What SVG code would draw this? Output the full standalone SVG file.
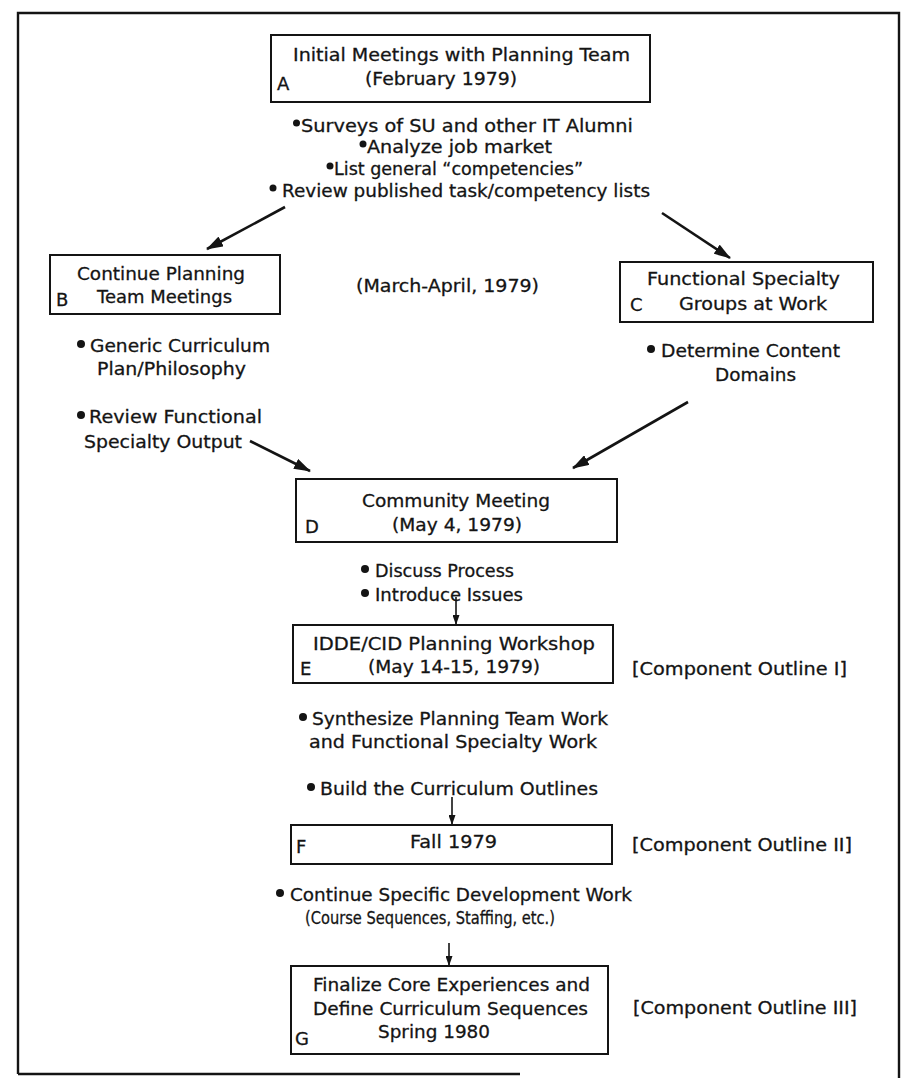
<svg xmlns="http://www.w3.org/2000/svg" width="904" height="1080" viewBox="0 0 904 1080">
<style>
.t{font-family:"DejaVu Sans","Liberation Sans",sans-serif;font-size:18px;fill:#141414;stroke:#141414;stroke-width:0.3}
.box{fill:#fff;stroke:#141414;stroke-width:2}
.conn{stroke:#141414;stroke-width:2.6;fill:none}
.thin{stroke:#141414;stroke-width:1.6;fill:none}
.dot{fill:#141414}
.frame{stroke:#141414;stroke-width:2.4;fill:none}
</style>
<defs>
<marker id="ah" markerUnits="userSpaceOnUse" markerWidth="17" markerHeight="11" refX="16" refY="5.5" orient="auto"><path d="M0,0 L17,5.5 L0,11 Z" fill="#141414"/></marker>
<marker id="ahs" markerUnits="userSpaceOnUse" markerWidth="10" markerHeight="7" refX="10" refY="3.5" orient="auto"><path d="M0,0 L10,3.5 L0,7 Z" fill="#141414"/></marker>
</defs>
<rect width="904" height="1080" fill="#fff"/>
<path class="frame" d="M18,1074 L18,13 L899,13 L899,1078 M18,1074 L520,1074"/>

<g id="connectors">
<path class="conn" d="M285,207 L207,249" marker-end="url(#ah)"/>
<path class="conn" d="M662,213 L730,258" marker-end="url(#ah)"/>
<path class="conn" d="M250,441 L310,471" marker-end="url(#ah)"/>
<path class="conn" d="M688,402 L573,468" marker-end="url(#ah)"/>
<path class="thin" d="M456,597 L456,625" marker-end="url(#ahs)"/>
<path class="thin" d="M452,797 L452,825" marker-end="url(#ahs)"/>
<path class="thin" d="M449,943 L449,966" marker-end="url(#ahs)"/>
</g>

<g id="nodeA">
<rect class="box" x="271" y="35" width="379" height="67"/>
<text class="t" x="293" y="61" textLength="337" lengthAdjust="spacingAndGlyphs">Initial Meetings with Planning Team</text>
<text class="t" x="365" y="85" textLength="152" lengthAdjust="spacingAndGlyphs">(February 1979)</text>
<text class="t" x="277" y="90">A</text>
</g>

<g id="notesA">
<circle class="dot" cx="296.5" cy="123" r="3.5"/>
<text class="t" x="301" y="132" textLength="332" lengthAdjust="spacingAndGlyphs">Surveys of SU and other IT Alumni</text>
<circle class="dot" cx="363" cy="144" r="3.5"/>
<text class="t" x="367" y="153" textLength="185" lengthAdjust="spacingAndGlyphs">Analyze job market</text>
<circle class="dot" cx="330" cy="166" r="3.5"/>
<text class="t" x="334" y="175" textLength="249" lengthAdjust="spacingAndGlyphs">List general “competencies”</text>
<circle class="dot" cx="273" cy="188" r="3.5"/>
<text class="t" x="282" y="197" textLength="368" lengthAdjust="spacingAndGlyphs">Review published task/competency lists</text>
</g>

<g id="nodeB">
<rect class="box" x="50" y="255" width="230" height="59"/>
<text class="t" x="77" y="280" textLength="168" lengthAdjust="spacingAndGlyphs">Continue Planning</text>
<text class="t" x="97" y="303" textLength="135" lengthAdjust="spacingAndGlyphs">Team Meetings</text>
<text class="t" x="56" y="306">B</text>
</g>

<text class="t" x="356" y="292" textLength="183" lengthAdjust="spacingAndGlyphs">(March-April, 1979)</text>

<g id="notesB">
<circle class="dot" cx="81" cy="344" r="4"/>
<text class="t" x="90" y="352" textLength="180" lengthAdjust="spacingAndGlyphs">Generic Curriculum</text>
<text class="t" x="97" y="375" textLength="149" lengthAdjust="spacingAndGlyphs">Plan/Philosophy</text>
<circle class="dot" cx="81" cy="415" r="4"/>
<text class="t" x="89" y="423" textLength="173" lengthAdjust="spacingAndGlyphs">Review Functional</text>
<text class="t" x="84" y="448" textLength="158" lengthAdjust="spacingAndGlyphs">Specialty Output</text>
</g>

<g id="nodeC">
<rect class="box" x="620" y="262" width="253" height="60"/>
<text class="t" x="647" y="285" textLength="193" lengthAdjust="spacingAndGlyphs">Functional Specialty</text>
<text class="t" x="679" y="310" textLength="148" lengthAdjust="spacingAndGlyphs">Groups at Work</text>
<text class="t" x="630" y="311">C</text>
</g>

<g id="notesC">
<circle class="dot" cx="651" cy="349" r="4"/>
<text class="t" x="661" y="357" textLength="179" lengthAdjust="spacingAndGlyphs">Determine Content</text>
<text class="t" x="715" y="381" textLength="81" lengthAdjust="spacingAndGlyphs">Domains</text>
</g>

<g id="nodeD">
<rect class="box" x="296" y="479" width="321" height="63"/>
<text class="t" x="362" y="507" textLength="188" lengthAdjust="spacingAndGlyphs">Community Meeting</text>
<text class="t" x="392" y="531" textLength="130" lengthAdjust="spacingAndGlyphs">(May 4, 1979)</text>
<text class="t" x="305" y="533">D</text>
</g>

<g id="notesD">
<circle class="dot" cx="365" cy="569" r="4"/>
<text class="t" x="375" y="577" textLength="139" lengthAdjust="spacingAndGlyphs">Discuss Process</text>
<circle class="dot" cx="365" cy="593" r="4"/>
<text class="t" x="375" y="601" textLength="148" lengthAdjust="spacingAndGlyphs">Introduce Issues</text>
</g>

<g id="nodeE">
<rect class="box" x="293" y="625" width="320" height="58"/>
<text class="t" x="313" y="650" textLength="282" lengthAdjust="spacingAndGlyphs">IDDE/CID Planning Workshop</text>
<text class="t" x="368" y="673" textLength="172" lengthAdjust="spacingAndGlyphs">(May 14-15, 1979)</text>
<text class="t" x="300" y="675">E</text>
</g>
<text class="t" x="632" y="675" textLength="215" lengthAdjust="spacingAndGlyphs">[Component Outline I]</text>

<g id="notesE">
<circle class="dot" cx="303" cy="717" r="4"/>
<text class="t" x="312" y="725" textLength="296" lengthAdjust="spacingAndGlyphs">Synthesize Planning Team Work</text>
<text class="t" x="309" y="748" textLength="288" lengthAdjust="spacingAndGlyphs">and Functional Specialty Work</text>
<circle class="dot" cx="311" cy="787" r="4"/>
<text class="t" x="320" y="795" textLength="278" lengthAdjust="spacingAndGlyphs">Build the Curriculum Outlines</text>
</g>

<g id="nodeF">
<rect class="box" x="291" y="825" width="321" height="39"/>
<text class="t" x="410" y="848" textLength="87" lengthAdjust="spacingAndGlyphs">Fall 1979</text>
<text class="t" x="296" y="853">F</text>
</g>
<text class="t" x="632" y="851" textLength="220" lengthAdjust="spacingAndGlyphs">[Component Outline II]</text>

<g id="notesF">
<circle class="dot" cx="280" cy="893" r="4"/>
<text class="t" x="290" y="901" textLength="342" lengthAdjust="spacingAndGlyphs">Continue Specific Development Work</text>
<text class="t" x="305" y="924" textLength="250" lengthAdjust="spacingAndGlyphs">(Course Sequences, Staffing, etc.)</text>
</g>

<g id="nodeG">
<rect class="box" x="291" y="966" width="317" height="88"/>
<text class="t" x="313" y="991" textLength="277" lengthAdjust="spacingAndGlyphs">Finalize Core Experiences and</text>
<text class="t" x="313" y="1015" textLength="275" lengthAdjust="spacingAndGlyphs">Define Curriculum Sequences</text>
<text class="t" x="378" y="1038" textLength="112" lengthAdjust="spacingAndGlyphs">Spring 1980</text>
<text class="t" x="295" y="1045">G</text>
</g>
<text class="t" x="633" y="1014" textLength="224" lengthAdjust="spacingAndGlyphs">[Component Outline III]</text>
</svg>
